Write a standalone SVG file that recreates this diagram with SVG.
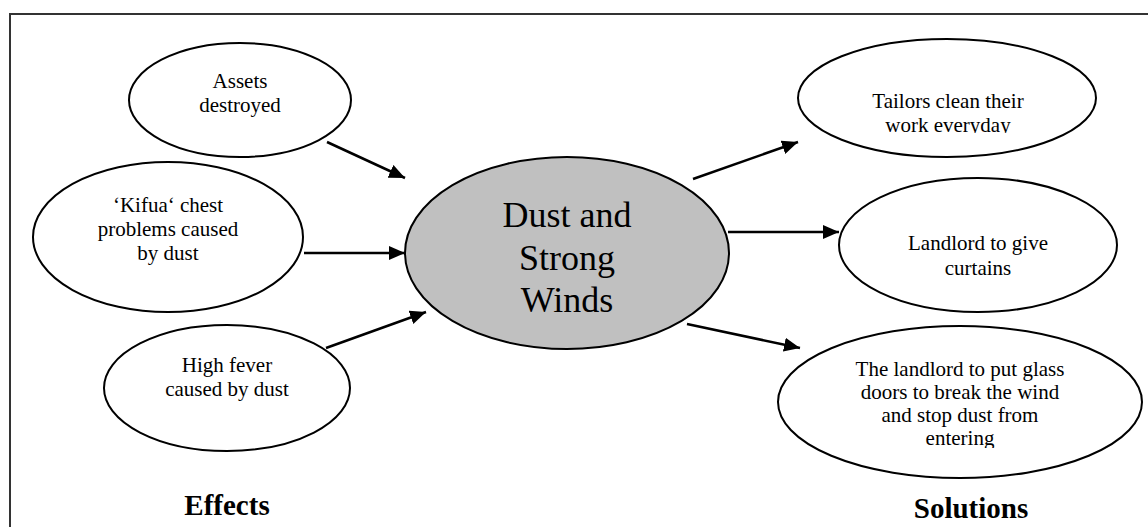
<svg xmlns="http://www.w3.org/2000/svg" width="1148" height="527" viewBox="0 0 1148 527">
  <style>
    .node { fill: #ffffff; stroke: #000000; stroke-width: 2; }
    .core { fill: #c0c0c0; stroke: #000000; stroke-width: 2; }
    text { font-family: "Liberation Serif", "DejaVu Serif", serif; fill: #000000; text-anchor: middle; }
    .txt { font-size: 21px; }
    .big { font-size: 36px; }
    .head { font-size: 29px; font-weight: bold; }
    .link { stroke: #000000; stroke-width: 2.5; fill: none; marker-end: url(#arrow); }
    .frame { stroke: #333333; stroke-width: 2; fill: none; }
  </style>
  <defs>
    <marker id="arrow" markerUnits="userSpaceOnUse" markerWidth="18" markerHeight="14" refX="16" refY="7" orient="auto">
      <path d="M0,0 L16,7 L0,14 Z" fill="#000000"/>
    </marker>
    <clipPath id="clipTailors"><rect x="790" y="80" width="320" height="53"/></clipPath>
    <clipPath id="clipGlass"><rect x="780" y="350" width="360" height="98"/></clipPath>
  </defs>

  <rect width="1148" height="527" fill="#ffffff"/>

  <!-- page frame: top and left rules -->
  <path class="frame" d="M10,527 L10,14 L1148,14"/>

  <!-- connectors -->
  <g id="connectors">
    <line class="link" x1="327" y1="142" x2="405" y2="178"/>
    <line class="link" x1="304" y1="253" x2="405" y2="253"/>
    <line class="link" x1="326" y1="348" x2="426" y2="312"/>
    <line class="link" x1="693" y1="179" x2="798" y2="142"/>
    <line class="link" x1="728" y1="232" x2="839" y2="232"/>
    <line class="link" x1="687" y1="324" x2="800" y2="348"/>
  </g>

  <g id="core">
    <ellipse class="core" cx="567" cy="253" rx="162" ry="96"/>
    <text class="big" x="567" y="227">Dust and</text>
    <text class="big" x="567" y="270">Strong</text>
    <text class="big" x="567" y="312">Winds</text>
  </g>

  <g id="assets">
    <ellipse class="node" cx="240" cy="100" rx="111" ry="57"/>
    <text class="txt" x="240" y="88">Assets</text>
    <text class="txt" x="240" y="112">destroyed</text>
  </g>

  <g id="kifua">
    <ellipse class="node" cx="168" cy="237" rx="135" ry="75"/>
    <text class="txt" x="168" y="212">‘Kifua‘ chest</text>
    <text class="txt" x="168" y="236">problems caused</text>
    <text class="txt" x="168" y="260">by dust</text>
  </g>

  <g id="fever">
    <ellipse class="node" cx="227" cy="388" rx="123" ry="63"/>
    <text class="txt" x="227" y="372">High fever</text>
    <text class="txt" x="227" y="396">caused by dust</text>
  </g>

  <g id="tailors">
    <ellipse class="node" cx="947" cy="98" rx="149" ry="59"/>
    <g clip-path="url(#clipTailors)">
      <text class="txt" x="948" y="108">Tailors clean their</text>
      <text class="txt" x="948" y="132">work everyday</text>
    </g>
  </g>

  <g id="curtains">
    <ellipse class="node" cx="978" cy="245" rx="139" ry="67"/>
    <text class="txt" x="978" y="250">Landlord to give</text>
    <text class="txt" x="978" y="275">curtains</text>
  </g>

  <g id="glass">
    <ellipse class="node" cx="960" cy="402" rx="182" ry="76"/>
    <g clip-path="url(#clipGlass)">
      <text class="txt" x="960" y="376">The landlord to put glass</text>
      <text class="txt" x="960" y="399">doors to break the wind</text>
      <text class="txt" x="960" y="422">and stop dust from</text>
      <text class="txt" x="960" y="445">entering</text>
    </g>
  </g>

  <g id="labels">
    <text class="head" x="227" y="515">Effects</text>
    <text class="head" x="971" y="518">Solutions</text>
  </g>
</svg>
